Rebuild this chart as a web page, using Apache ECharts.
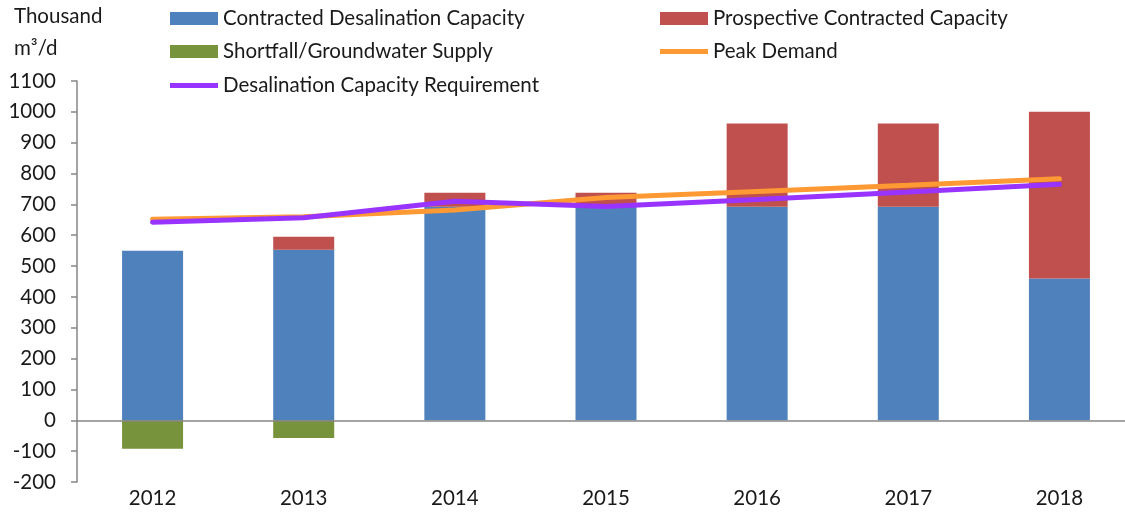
<!DOCTYPE html>
<html>
<head>
<meta charset="utf-8">
<script src="https://cdn.jsdelivr.net/npm/echarts@6/dist/echarts.min.js"></script>
<style>
  html, body { margin: 0; padding: 0; background: #fff; }
  #chart { width: 1125px; height: 514px; }
</style>
</head>
<body>
<div id="chart"></div>
<script>
var years = ["2012", "2013", "2014", "2015", "2016", "2017", "2018"];
var contracted = [550, 553, 692, 692, 692, 692, 460];
var prospective = [0, 42, 46, 46, 270, 270, 540];
var shortfall = [-92, -57, 0, 0, 0, 0, 0];
var peakDemand = [652, 660, 682, 722, 742, 762, 783];
var requirement = [642, 657, 710, 693, 716, 740, 765];

var font = "Lato, 'Open Sans', sans-serif";
var txt = { color: "#1a1a1a", fontSize: 20.5, fontFamily: font };

function legendAt(name, left, top, h) {
  return {
    data: [{ name: name, icon: "rect" }],
    left: left, top: top,
    itemWidth: 48, itemHeight: h, itemGap: 6,
    padding: 0,
    selectedMode: false,
    textStyle: txt
  };
}

var chart = echarts.init(document.getElementById("chart"));
chart.setOption({
  animation: false,
  grid: { left: 77, width: 1058, top: 81, bottom: 32, outerBoundsMode: "none" },
  legend: [
    legendAt("Contracted Desalination Capacity", 170, 8, 13),
    legendAt("Prospective Contracted Capacity", 660, 8, 13),
    legendAt("Shortfall/Groundwater Supply", 170, 41, 13),
    legendAt("Peak Demand", 660, 41, 5),
    legendAt("Desalination Capacity Requirement", 170, 75, 5)
  ],
  graphic: [
    { type: "text", left: 14, top: 6, style: { text: "Thousand", fill: "#1a1a1a", font: "20.5px " + font } },
    { type: "text", left: 14, top: 38, style: { text: "m\u00b3/d", fill: "#1a1a1a", font: "20.5px " + font } }
  ],
  xAxis: {
    type: "category",
    data: years,
    axisLine: { show: false, onZero: false },
    axisTick: { show: false },
    axisLabel: { margin: 6, color: "#1a1a1a", fontSize: 20.5, fontFamily: font }
  },
  yAxis: {
    type: "value",
    min: -200, max: 1100, interval: 100,
    splitLine: { show: false },
    axisLine: { show: true, lineStyle: { color: "#868686", width: 1.5 } },
    axisTick: { show: true, length: 6, lineStyle: { color: "#868686", width: 1.5 } },
    axisLabel: {
      margin: 21, color: "#1a1a1a", fontSize: 20.5, fontFamily: font,
      formatter: function (v) { return String(v); }
    }
  },
  series: [
    {
      name: "Contracted Desalination Capacity", type: "bar", stack: "a",
      barWidth: 61, data: contracted,
      itemStyle: { color: "#4F81BD" },
      markLine: {
        silent: true, symbol: "none", label: { show: false },
        lineStyle: { color: "#868686", type: "solid", width: 1.5 },
        data: [{ yAxis: 0 }]
      }
    },
    {
      name: "Prospective Contracted Capacity", type: "bar", stack: "a",
      barWidth: 61, data: prospective,
      itemStyle: { color: "#C0504D" }
    },
    {
      name: "Shortfall/Groundwater Supply", type: "bar", stack: "a",
      barWidth: 61, data: shortfall,
      itemStyle: { color: "#77933C" }
    },
    {
      name: "Peak Demand", type: "line", data: peakDemand,
      symbol: "none", z: 5,
      lineStyle: { color: "#FF9933", width: 5, cap: "round" },
      itemStyle: { color: "#FF9933" }
    },
    {
      name: "Desalination Capacity Requirement", type: "line", data: requirement,
      symbol: "none", z: 6,
      lineStyle: { color: "#9933FF", width: 5, cap: "round" },
      itemStyle: { color: "#9933FF" }
    }
  ]
});
</script>
</body>
</html>
